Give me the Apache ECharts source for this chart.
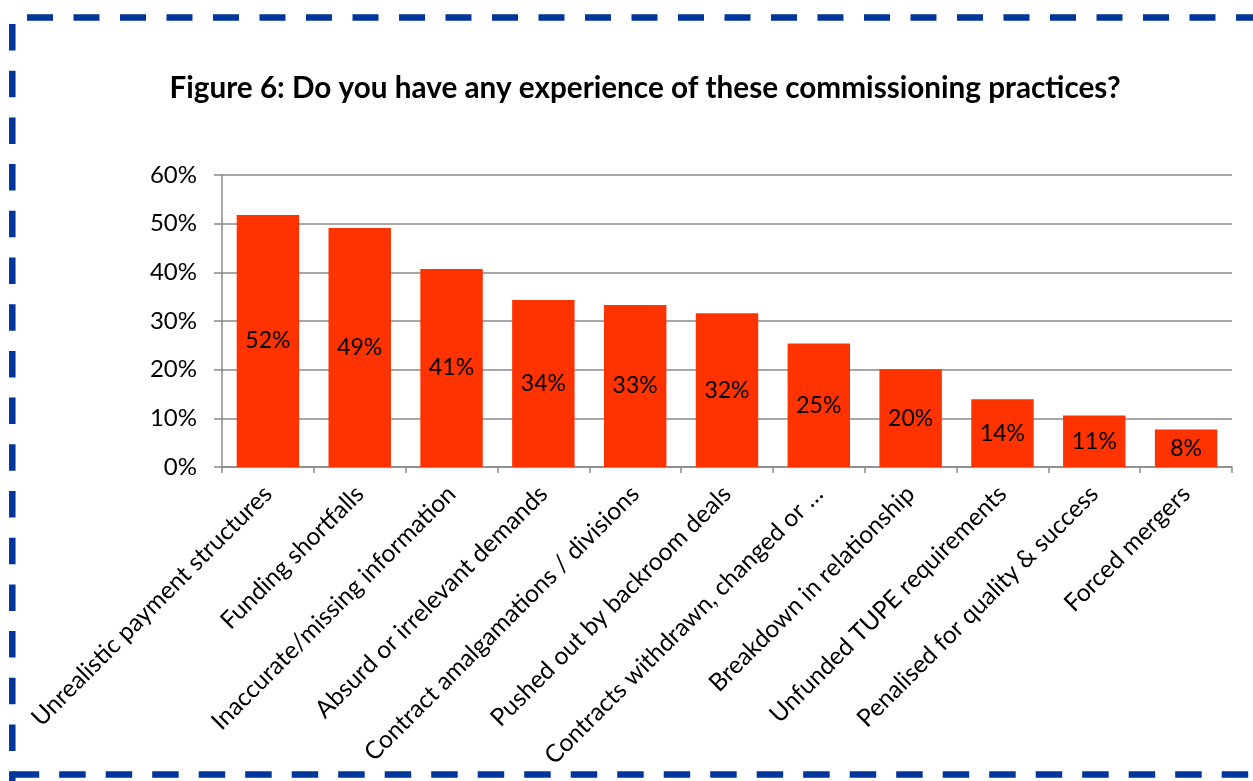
<!DOCTYPE html>
<html>
<head>
<meta charset="utf-8">
<script src="https://cdn.jsdelivr.net/npm/echarts@6/dist/echarts.min.js"></script>
<style>
  html, body { margin: 0; padding: 0; background: #ffffff; }
  #chart { width: 1253px; height: 781px; }
</style>
</head>
<body>
<div id="chart"></div>
<script>
// Survey responses: share of respondents reporting each commissioning practice
const titleText = 'Figure 6: Do you have any experience of these commissioning practices?';
const categories = [
  'Unrealistic payment structures',
  'Funding shortfalls',
  'Inaccurate/missing information',
  'Absurd or irrelevant demands',
  'Contract amalgamations / divisions',
  'Pushed out by backroom deals',
  'Contracts withdrawn, changed or …',
  'Breakdown in relationship',
  'Unfunded TUPE requirements',
  'Penalised for quality & success',
  'Forced mergers'
];
const percentages = [51.8, 49.1, 40.7, 34.3, 33.3, 31.6, 25.4, 20.1, 13.9, 10.6, 7.7];
const yTicks = [0, 10, 20, 30, 40, 50, 60];

const FONT = 'Lato, "Open Sans", sans-serif';
const AXIS_GREY = '#8a8a8a';
const BORDER_BLUE = '#00369c';

const chart = echarts.init(document.getElementById('chart'), null, { renderer: 'canvas' });

const option = {
  backgroundColor: '#ffffff',
  animation: false,
  title: {
    text: titleText,
    left: 640,
    top: 68,
    textAlign: 'center',
    textStyle: { fontFamily: FONT, fontWeight: 'bold', fontSize: 29.7, color: '#000000' }
  },
  grid: { left: 222, right: 21, top: 175, bottom: 314, containLabel: false },
  xAxis: {
    type: 'category',
    data: categories,
    axisLine: { show: true, lineStyle: { color: AXIS_GREY, width: 1.5 } },
    axisTick: { show: true, length: 6, lineStyle: { color: AXIS_GREY, width: 1.5 } },
    axisLabel: {
      interval: 0,
      rotate: 45,
      margin: 23,
      fontFamily: FONT,
      fontSize: 24.5,
      color: '#000000'
    }
  },
  yAxis: {
    type: 'value',
    min: yTicks[0],
    max: yTicks[yTicks.length - 1],
    interval: 10,
    axisLine: { show: true, lineStyle: { color: AXIS_GREY, width: 1.5 } },
    axisTick: { show: true, length: 8, lineStyle: { color: AXIS_GREY, width: 1.5 } },
    splitLine: { show: true, lineStyle: { color: AXIS_GREY, width: 1.5 } },
    axisLabel: {
      margin: 25,
      fontFamily: FONT,
      fontSize: 24,
      color: '#000000',
      formatter: v => v + '%'
    }
  },
  series: [{
    type: 'bar',
    data: percentages,
    barCategoryGap: '32%',
    itemStyle: { color: '#ff3300' },
    label: {
      show: true,
      position: 'inside',
      fontFamily: FONT,
      fontSize: 23,
      color: '#000000',
      formatter: p => Math.round(p.value) + '%'
    }
  }],
  // dashed frame around the figure
  graphic: [
    {
      type: 'line',
      shape: { x1: 27, y1: 17.5, x2: 1260, y2: 17.5 },
      style: { stroke: BORDER_BLUE, lineWidth: 6.5, lineDash: [26, 20.5] },
      silent: true
    },
    {
      type: 'line',
      shape: { x1: 12.3, y1: 24, x2: 12.3, y2: 790 },
      style: { stroke: BORDER_BLUE, lineWidth: 6.5, lineDash: [26.5, 20.2] },
      silent: true
    },
    {
      type: 'line',
      shape: { x1: 12.7, y1: 774.5, x2: 1260, y2: 774.5 },
      style: { stroke: BORDER_BLUE, lineWidth: 6.5, lineDash: [26.5, 20] },
      silent: true
    }
  ]
};

chart.setOption(option);
</script>
</body>
</html>
